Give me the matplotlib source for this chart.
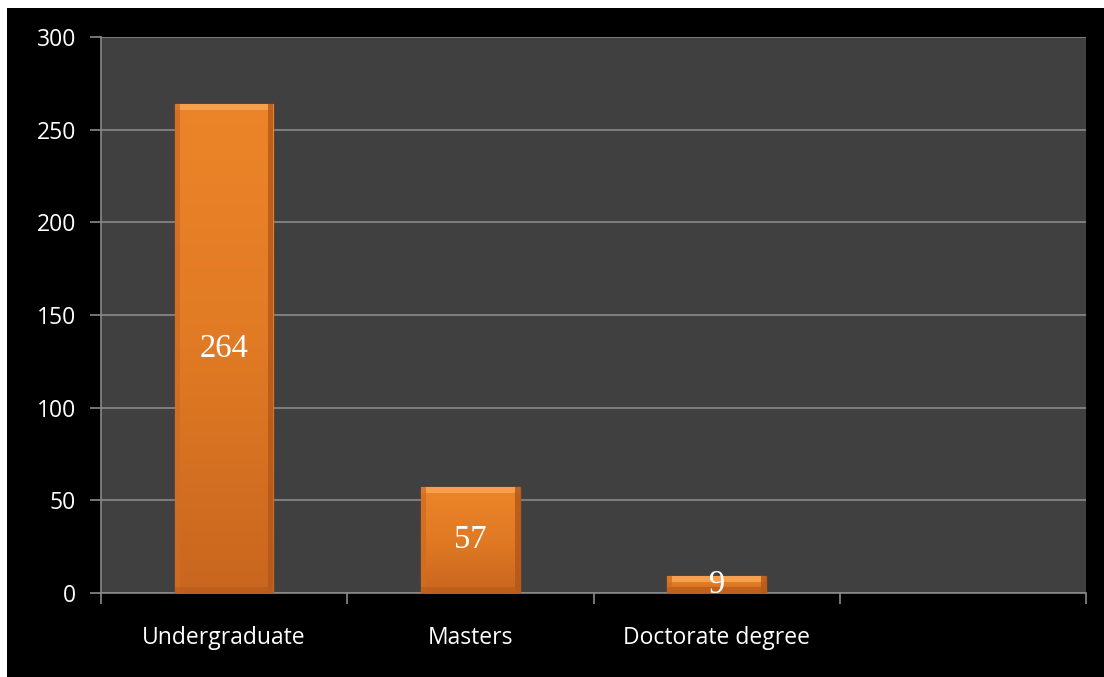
import numpy as np
import matplotlib.pyplot as plt
from matplotlib.patches import Rectangle
from matplotlib.colors import LinearSegmentedColormap

categories = ['Undergraduate', 'Masters', 'Doctorate degree', '']
values = [264, 57, 9, None]
y_ticks = [0, 50, 100, 150, 200, 250, 300]

W, H = 1104, 677
fig = plt.figure(figsize=(W / 100, H / 100), dpi=100, facecolor='white')

# black frame behind the chart
fig.patches.append(Rectangle((7 / W, 0), 1 - 7 / W, 1 - 8 / H, transform=fig.transFigure,
                             facecolor='black', edgecolor='none', zorder=-10))

ax = fig.add_axes([101 / W, 1 - 593 / H, (1086 - 101) / W, (593 - 37) / H])
ax.set_zorder(1)
ax.set_facecolor('#404040')

x = list(range(len(categories)))
bar_x = [i for i, v in zip(x, values) if v is not None]
bar_v = [v for v in values if v is not None]
width = 0.4

bars = ax.bar(bar_x, bar_v, width=width, color='#E57D24', edgecolor='#B45A1C',
              linewidth=1.0, zorder=3)

# vertical gradient inside each bar, lighter at top
grad = LinearSegmentedColormap.from_list('g', ['#C9661F', '#E07A24', '#EC8529'])
g = np.linspace(0, 1, 256).reshape(-1, 1)
for b in bars:
    bx, by = b.get_x(), b.get_y()
    bw, bh = b.get_width(), b.get_height()
    im = ax.imshow(g, cmap=grad, origin='lower', aspect='auto',
                   extent=[bx, bx + bw, by, by + bh], zorder=3.5)
    im.set_clip_path(b)

# bevel: light top, darker sides and bottom
bevel = 3.2
ax.bar(bar_x, [bevel] * len(bar_v), bottom=[v - bevel for v in bar_v], width=width,
       color='#F6A04E', edgecolor='none', zorder=4)
ax.bar([b - width / 2 + 0.01 for b in bar_x], bar_v, width=0.02,
       color='#D16C20', edgecolor='none', zorder=4, alpha=0.8)
ax.bar([b + width / 2 - 0.01 for b in bar_x], bar_v, width=0.02,
       color='#B3561A', edgecolor='none', zorder=4, alpha=0.8)
ax.bar(bar_x, [bevel] * len(bar_v), width=width, color='#B95C1C', edgecolor='none',
       zorder=4, alpha=0.7)

for b, v in zip(bar_x, bar_v):
    ax.text(b, v / 2, str(v), ha='center', va='center', color='white',
            fontsize=23.5, family='Liberation Serif', zorder=5)

ax.set_xlim(-0.5, len(categories) - 0.5)
ax.set_ylim(0, 300)
ax.set_yticks(y_ticks)
ax.set_yticklabels([str(t) for t in y_ticks], color='white', fontsize=16.5, family='Open Sans')
ax.yaxis.grid(True, color='#8a8a8a', linewidth=1.2, zorder=1)
ax.set_axisbelow(True)

# category labels centered, ticks at slot boundaries
ax.set_xticks(x)
ax.set_xticklabels(categories, color='white', fontsize=16.5, family='Open Sans')
ax.tick_params(axis='x', length=0, pad=24)
ax.set_xticks([i - 0.5 for i in range(len(categories) + 1)], minor=True)
ax.tick_params(axis='x', which='minor', length=8, color='#8a8a8a', width=1.2)
ax.tick_params(axis='y', length=8, color='#8a8a8a', width=1.2, pad=10)

for side in ['top', 'right']:
    ax.spines[side].set_visible(False)
ax.spines['left'].set_color('#8a8a8a')
ax.spines['bottom'].set_color('#8a8a8a')
ax.spines['left'].set_linewidth(1.2)
ax.spines['bottom'].set_linewidth(1.2)

fig.savefig('out.png', dpi=100, facecolor=fig.get_facecolor())
